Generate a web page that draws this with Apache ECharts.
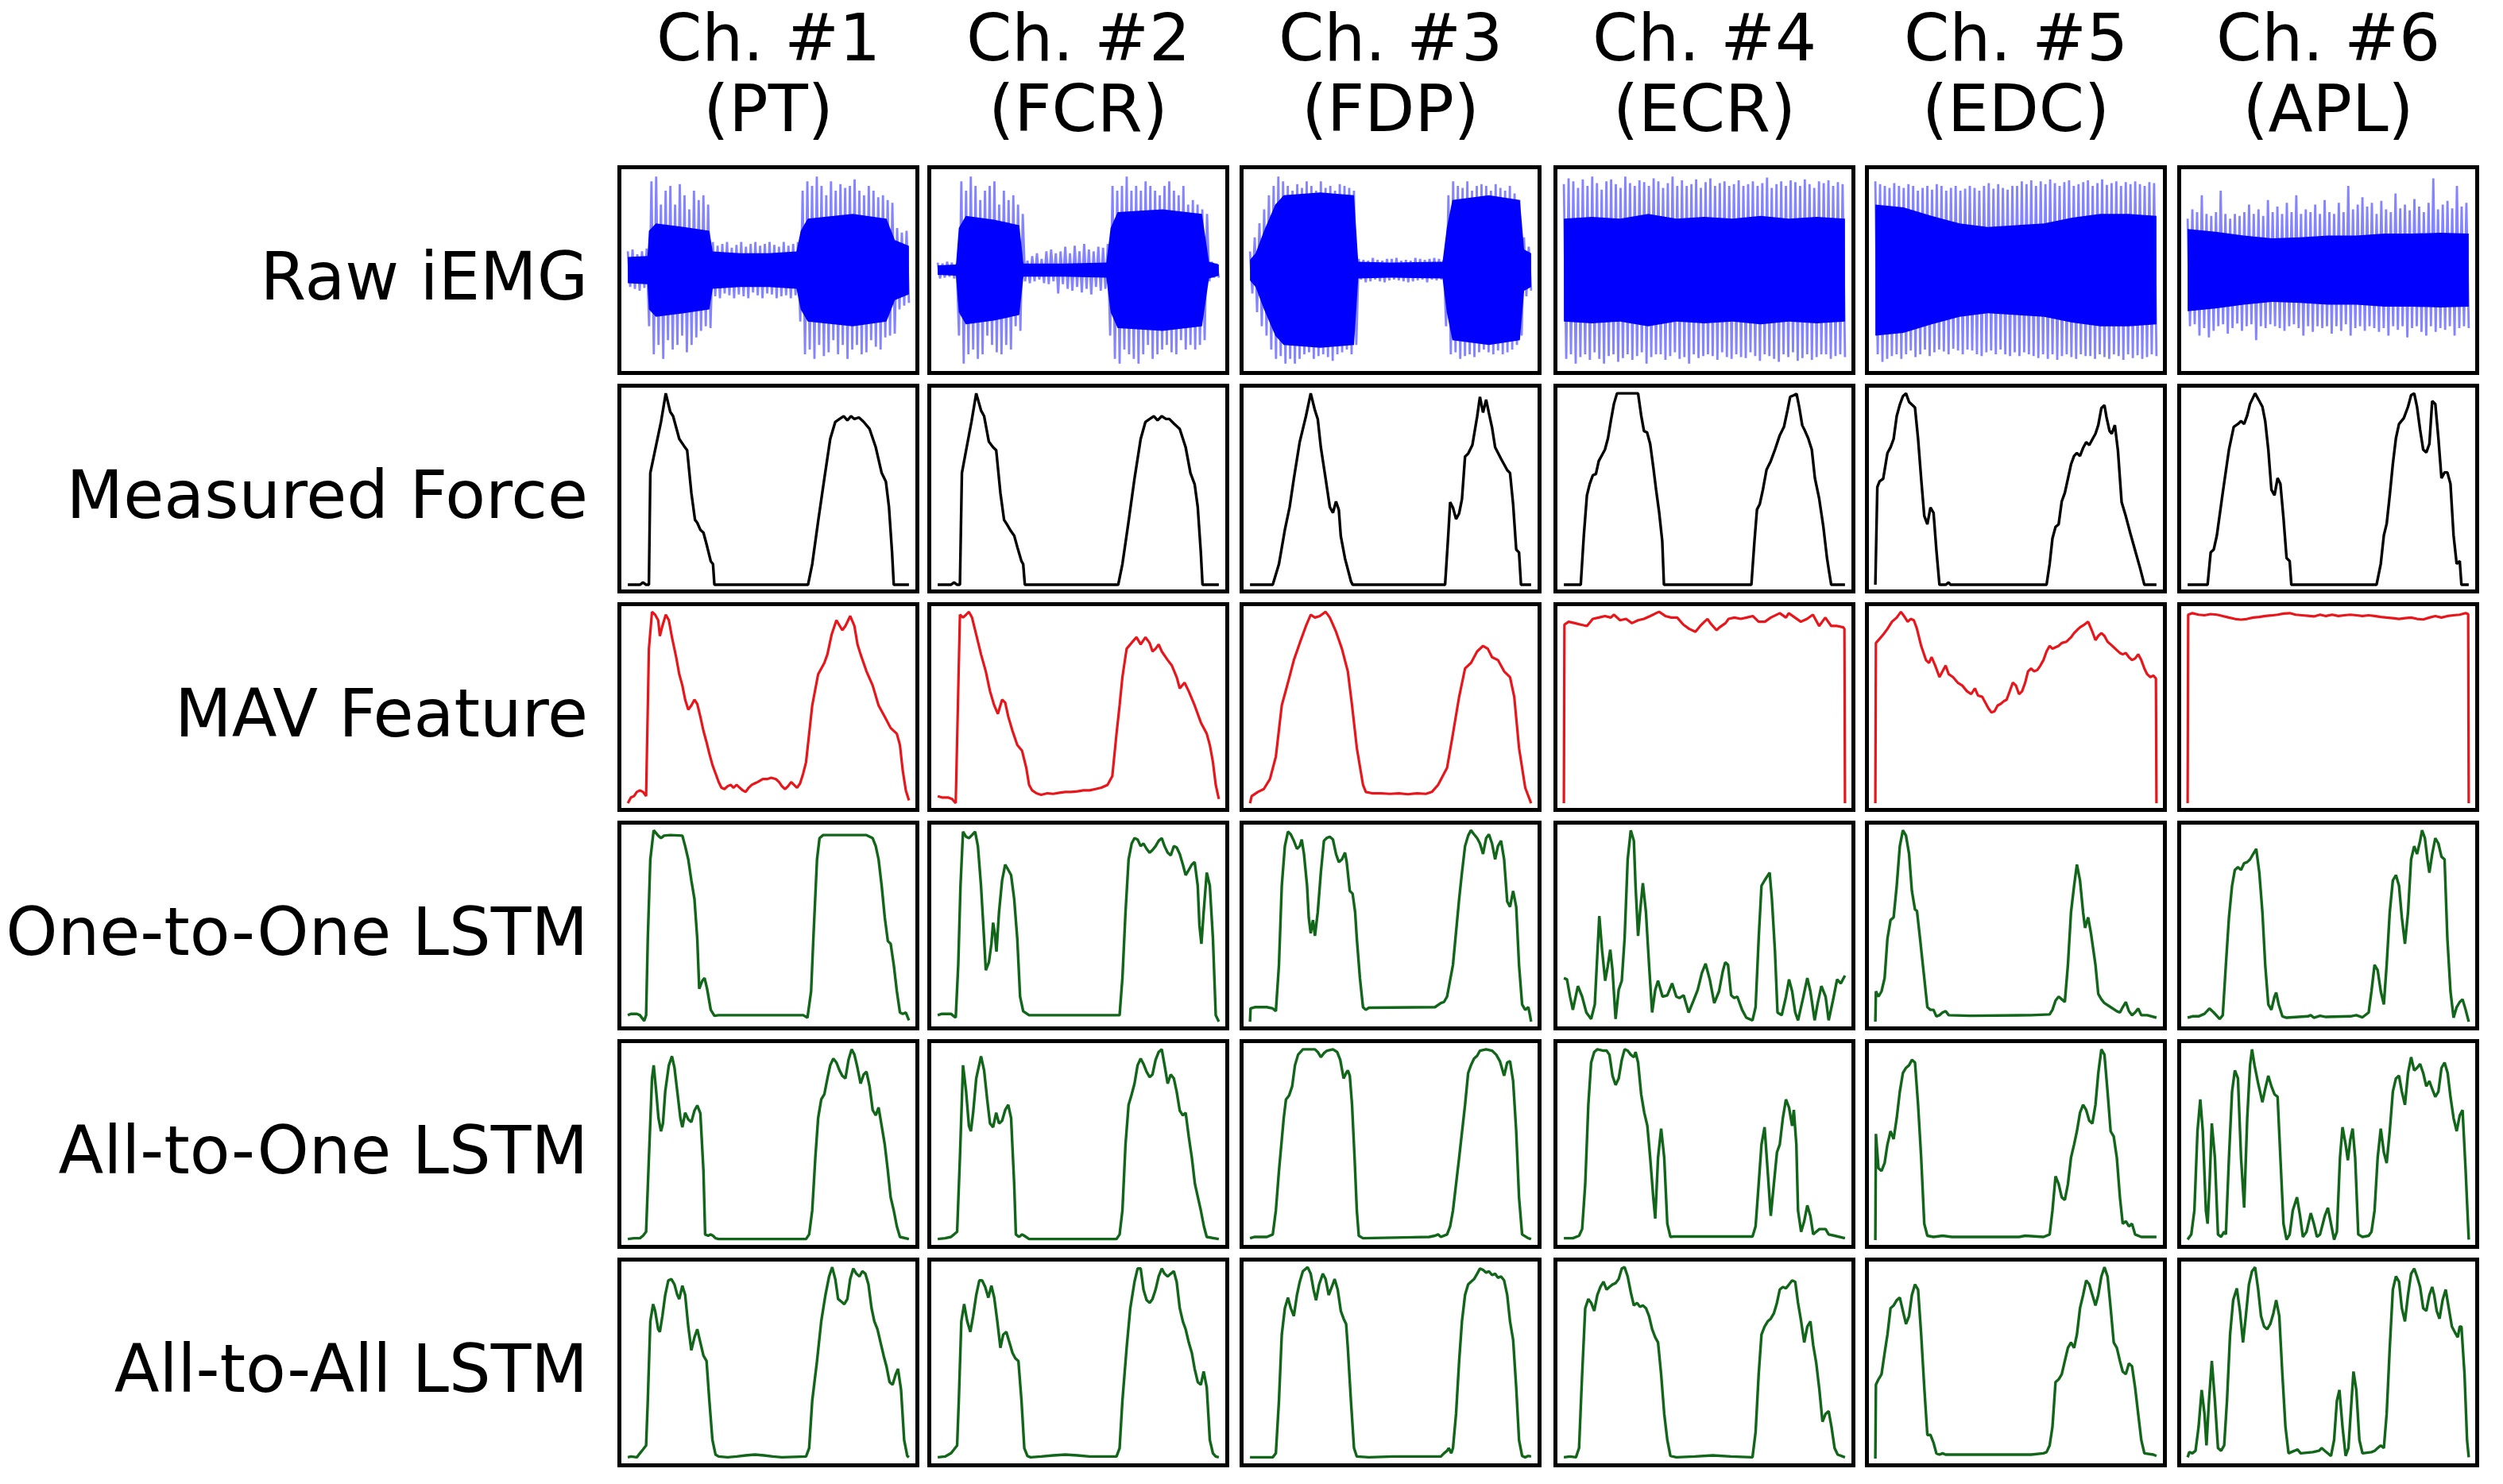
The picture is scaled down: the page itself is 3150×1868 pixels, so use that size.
<!DOCTYPE html>
<html>
<head>
<meta charset="utf-8">
<script src="https://cdn.jsdelivr.net/npm/echarts@6/dist/echarts.min.js"></script>
<style>
html,body{margin:0;padding:0;background:#fff;}
#chart{width:3150px;height:1868px;}
</style>
</head>
<body>
<div id="chart"></div>
<script>
// ---------- labels ----------
const channelNames = ['Ch. #1','Ch. #2','Ch. #3','Ch. #4','Ch. #5','Ch. #6'];
const muscleNames = ['(PT)','(FCR)','(FDP)','(ECR)','(EDC)','(APL)'];
const rowLabels = ['Raw iEMG','Measured Force','MAV Feature','One-to-One LSTM','All-to-One LSTM','All-to-All LSTM'];

// ---------- Raw iEMG: dense core envelope [time %, amplitude] ----------
const emgCore1 = [[0,0.14],[7,0.15],[7.5,0.42],[10,0.5],[20,0.46],[29,0.42],[30.2,0.2],[40,0.18],[50,0.18],[60,0.2],[61.5,0.42],[64,0.55],[80,0.6],[92,0.55],[95,0.32],[100,0.26]];
const emgCore2 = [[0,0.05],[6.5,0.06],[7.5,0.45],[10,0.58],[20,0.54],[29,0.48],[30.5,0.07],[45,0.07],[60,0.08],[61.5,0.45],[64,0.62],[80,0.65],[94,0.6],[96.5,0.09],[100,0.06]];
const emgCore3 = [[0,0.11],[2,0.18],[5,0.42],[9,0.7],[12,0.8],[25,0.83],[37,0.8],[38.5,0.09],[50,0.08],[68.5,0.09],[70,0.45],[72,0.75],[85,0.8],[96,0.75],[97.5,0.22],[100,0.18]];
const emgCore4 = [[0,0.55],[10,0.57],[20,0.55],[30,0.6],[40,0.55],[50,0.57],[60,0.55],[70,0.58],[80,0.55],[90,0.57],[100,0.55]];
const emgCore5 = [[0,0.7],[10,0.67],[20,0.58],[30,0.5],[40,0.46],[50,0.48],[60,0.5],[70,0.56],[80,0.6],[90,0.6],[100,0.58]];
const emgCore6 = [[0,0.44],[10,0.41],[20,0.37],[30,0.34],[40,0.35],[50,0.37],[60,0.37],[70,0.39],[80,0.39],[90,0.4],[100,0.39]];

// ---------- Raw iEMG: spike extremes (120 samples, evenly spaced in time) ----------
const emgSpike1 = [
 0.2,-0.18,0.22,-0.2,0.17,-0.22,0.2,-0.19,0.23,-0.6,
 0.95,-0.9,1.0,-0.8,0.7,-0.95,0.85,-0.75,0.9,-0.85,
 0.7,-0.8,0.92,-0.7,0.8,-0.88,0.65,-0.8,0.85,-0.72,
 0.75,-0.65,0.8,-0.6,0.7,-0.62,0.3,-0.28,0.26,-0.3,
 0.28,-0.25,0.3,-0.27,0.24,-0.3,0.27,-0.26,0.3,-0.28,
 0.25,-0.3,0.28,-0.24,0.3,-0.27,0.26,-0.3,0.28,-0.25,
 0.3,-0.26,0.27,-0.3,0.25,-0.28,0.3,-0.27,0.26,-0.3,
 0.28,-0.27,0.3,-0.55,0.85,-0.9,0.95,-0.85,0.9,-0.95,
 1.0,-0.8,0.9,-0.92,0.8,-0.88,0.95,-0.75,0.85,-0.9,
 0.92,-0.8,0.88,-0.95,0.9,-0.85,0.97,-0.8,0.85,-0.9,
 0.8,-0.88,0.9,-0.75,0.85,-0.82,0.78,-0.85,0.8,-0.72,
 0.75,-0.7,0.72,-0.68,0.45,-0.42,0.4,-0.38,0.42,-0.35];
const emgSpike2 = [
 0.08,-0.09,0.07,-0.08,0.09,-0.07,0.08,-0.09,0.07,-0.7,
 0.95,-1.0,0.85,-0.9,1.0,-0.85,0.9,-0.95,0.75,-0.9,
 0.85,-0.7,0.9,-0.8,0.95,-0.88,0.7,-0.9,0.85,-0.8,
 0.75,-0.85,0.8,-0.6,0.7,-0.65,0.6,-0.12,0.1,-0.14,
 0.15,-0.12,0.18,-0.1,0.12,-0.14,0.2,-0.15,0.22,-0.12,
 0.18,-0.25,0.2,-0.15,0.25,-0.2,0.18,-0.22,0.26,-0.18,
 0.2,-0.24,0.28,-0.2,0.22,-0.26,0.2,-0.18,0.25,-0.22,
 0.24,-0.2,0.28,-0.7,0.9,-0.95,0.85,-1.0,0.9,-0.85,
 1.0,-0.9,0.85,-0.95,0.9,-1.0,0.85,-0.9,0.95,-0.8,
 0.9,-0.95,0.85,-0.9,0.8,-0.85,0.9,-0.8,0.95,-0.88,
 0.85,-0.9,0.8,-0.75,0.9,-0.85,0.7,-0.8,0.75,-0.85,
 0.7,-0.8,0.65,-0.75,0.6,-0.12,0.09,-0.08,0.07,-0.08];
const emgSpike3 = [
 0.2,-0.25,0.35,-0.45,0.5,-0.6,0.65,-0.7,0.8,-0.85,
 0.9,-0.95,1.0,-0.92,0.95,-1.0,0.9,-0.95,0.85,-1.0,
 0.92,-0.95,0.88,-0.9,0.95,-0.88,0.9,-0.95,0.85,-0.92,
 0.95,-0.9,0.88,-0.93,0.9,-0.97,0.85,-0.9,0.92,-0.88,
 0.9,-0.85,0.88,-0.9,0.85,-0.8,0.12,-0.1,0.11,-0.13,
 0.1,-0.12,0.13,-0.1,0.11,-0.12,0.1,-0.13,0.12,-0.11,
 0.12,-0.1,0.13,-0.11,0.1,-0.12,0.11,-0.13,0.1,-0.12,
 0.13,-0.11,0.12,-0.1,0.11,-0.13,0.12,-0.1,0.13,-0.11,
 0.12,-0.1,0.11,-0.6,0.8,-0.9,0.95,-0.88,0.9,-0.95,
 0.88,-0.92,0.95,-0.9,0.85,-0.93,0.9,-0.88,0.92,-0.85,
 0.9,-0.88,0.85,-0.9,0.92,-0.86,0.88,-0.9,0.85,-0.88,
 0.9,-0.85,0.82,-0.8,0.75,-0.7,0.35,-0.28,0.25,-0.22];
const emgSpike4 = [
 0.92,-0.95,0.98,-0.9,0.95,-1.0,0.88,-0.93,0.97,-0.9,
 0.9,-0.96,1.0,-0.88,0.93,-0.95,0.86,-1.0,0.95,-0.92,
 0.97,-0.9,0.92,-0.98,0.88,-0.94,1.0,-0.9,0.93,-0.96,
 0.9,-0.92,0.96,-0.88,0.94,-1.0,0.9,-0.93,0.98,-0.9,
 0.95,-0.9,0.88,-0.96,0.93,-0.92,1.0,-0.88,0.9,-0.95,
 0.96,-0.93,0.9,-1.0,0.92,-0.9,0.97,-0.94,0.88,-0.92,
 0.94,-0.9,0.98,-0.92,0.9,-0.96,0.93,-0.88,0.95,-0.93,
 0.9,-0.95,0.92,-0.9,0.96,-0.93,0.9,-0.94,0.92,-0.88,
 0.95,-0.92,0.9,-0.97,0.93,-0.9,0.99,-0.92,0.88,-0.95,
 0.92,-0.98,0.95,-0.9,0.9,-0.93,0.96,-0.88,0.94,-0.97,
 0.9,-0.94,0.97,-0.9,0.92,-0.96,0.88,-0.93,0.95,-0.9,
 0.93,-0.9,0.96,-0.95,0.9,-0.92,0.94,-0.9,0.92,-0.93];
const emgSpike5 = [
 0.95,-0.9,0.92,-0.98,0.9,-0.95,0.88,-0.92,0.93,-0.9,
 0.9,-0.95,0.88,-0.9,0.92,-0.86,0.9,-0.93,0.85,-0.9,
 0.88,-0.85,0.9,-0.92,0.86,-0.88,0.92,-0.85,0.9,-0.87,
 0.85,-0.9,0.88,-0.84,0.9,-0.86,0.85,-0.9,0.87,-0.85,
 0.9,-0.86,0.88,-0.9,0.85,-0.92,0.9,-0.88,0.93,-0.86,
 0.87,-0.9,0.92,-0.85,0.88,-0.9,0.86,-0.92,0.9,-0.88,
 0.9,-0.92,0.95,-0.88,0.92,-0.9,0.96,-0.92,0.9,-0.94,
 0.95,-0.9,0.92,-0.95,0.97,-0.9,0.93,-0.96,0.9,-0.92,
 0.94,-0.9,0.96,-0.93,0.9,-0.95,0.92,-0.9,0.94,-0.92,
 0.96,-0.92,0.9,-0.95,0.93,-0.9,0.97,-0.93,0.91,-0.95,
 0.93,-0.9,0.95,-0.92,0.9,-0.96,0.94,-0.9,0.92,-0.94,
 0.95,-0.91,0.92,-0.95,0.9,-0.93,0.94,-0.9,0.93,-0.92];
const emgSpike6 = [
 0.55,-0.6,0.65,-0.58,0.62,-0.7,0.8,-0.62,0.6,-0.72,
 0.58,-0.65,0.62,-0.6,0.85,-0.58,0.6,-0.68,0.55,-0.62,
 0.6,-0.57,0.58,-0.65,0.62,-0.6,0.7,-0.58,0.6,-0.75,
 0.65,-0.6,0.58,-0.62,0.75,-0.58,0.62,-0.6,0.68,-0.62,
 0.6,-0.65,0.72,-0.6,0.62,-0.58,0.8,-0.62,0.6,-0.7,
 0.65,-0.6,0.62,-0.66,0.7,-0.6,0.6,-0.62,0.75,-0.6,
 0.62,-0.68,0.6,-0.6,0.72,-0.65,0.62,-0.58,0.9,-0.7,
 0.65,-0.62,0.7,-0.6,0.78,-0.65,0.68,-0.6,0.72,-0.62,
 0.6,-0.66,0.74,-0.62,0.65,-0.7,0.62,-0.6,0.82,-0.64,
 0.66,-0.6,0.7,-0.72,0.64,-0.62,0.76,-0.6,0.68,-0.66,
 0.62,-0.7,0.72,-0.6,0.98,-0.66,0.65,-0.62,0.7,-0.64,
 0.74,-0.6,0.66,-0.7,0.9,-0.62,0.68,-0.6,0.72,-0.62];

// ---------- Measured Force [time %, % of max] ----------
const force1 = [[0,0],[4.3,0],[5.4,1.2],[6.5,0],[7.5,0],[8.0,58.4],[9.7,70.3],[11.8,85.1],[13.5,100],[15.1,90.3],[16.1,88.1],[18.3,76.2],[20.0,72.5],[21.1,70.3],[22.6,48],[23.9,33.9],[24.7,32.4],[25.8,28.7],[26.9,27.2],[28.0,21.2],[29.5,12.3],[30.3,10.8],[30.8,0],[64.1,0],[65.6,10.8],[67.7,33.1],[69.9,55.4],[72.0,76.2],[73.8,85.1],[75.3,86.6],[76.8,88.1],[78.1,85.9],[79.4,88.1],[80.6,86.6],[82.2,87.4],[83.9,85.1],[86.0,81.4],[88.2,71.8],[90.3,58.4],[91.8,53.9],[92.9,40.6],[94.0,16.8],[94.6,0],[100,0]];
const force2 = [[0,0],[4.7,0],[5.8,1.2],[6.9,0],[7.9,0],[8.6,58.4],[10.1,70.3],[12.0,85.1],[13.7,100],[15.4,91.1],[16.5,88.1],[18.2,74.7],[19.7,71.8],[20.8,70.3],[22.3,48],[23.6,33.9],[24.6,31.6],[26.1,27.9],[27.2,25.7],[28.3,19.8],[29.8,12.3],[30.4,10.8],[31.0,0],[64.2,0],[65.7,10.8],[67.9,33.1],[70.0,55.4],[72.2,76.2],[73.9,85.1],[75.4,86.6],[76.9,88.1],[78.2,85.9],[79.7,88.1],[81.2,86.6],[82.4,86.6],[83.9,84.4],[86.1,81.4],[88.2,71.8],[89.9,58.4],[91.4,52.5],[92.5,40.6],[93.6,16.8],[94.2,0],[100,0]];
const force3 = [[0,0],[8.1,0],[10.3,10.8],[12.4,28.7],[14.1,40.6],[15.6,55.4],[17.7,74.7],[19.9,88.1],[21.6,100],[23.1,91.1],[24.1,86.6],[25.2,71.8],[26.9,55.4],[28.4,40.6],[29.5,37.6],[30.6,43.5],[31.6,39.1],[32.3,25.4],[33.8,13.7],[35.9,1.9],[36.5,0],[69.4,0],[70.5,25.4],[71.2,43.2],[72.2,40.3],[73.3,34.3],[74.4,37.3],[75.4,44.7],[76.5,67.0],[77.6,68.5],[79.1,73.0],[80.8,87.8],[81.8,98.2],[82.9,90.0],[84.0,96.7],[85.0,89.6],[86.1,82.2],[87.2,71.8],[89.3,65.8],[91.5,59.9],[92.5,58.4],[93.6,42.1],[94.7,18.4],[95.7,16.9],[96.4,0],[100,0]];
const force4 = [[0,0],[6.0,0],[7.1,25.8],[8.2,46.7],[9.2,52.7],[10.3,57.2],[11.4,57.9],[12.4,64.6],[13.5,67.6],[14.6,70.6],[15.7,76.6],[16.7,85.5],[17.8,94.5],[18.9,100],[26.4,100],[27.5,88.5],[28.5,80.3],[29.6,79.6],[30.7,73.6],[31.8,61.6],[32.8,49.7],[33.9,37.8],[35.0,22.8],[35.6,0],[66.7,0],[67.8,22.8],[68.7,39.3],[69.7,42.2],[70.8,49.7],[72.1,60.1],[73.6,64.6],[75.1,70.6],[76.8,78.1],[78.3,82.5],[79.6,91.5],[80.5,98.2],[81.8,99.0],[82.8,99.7],[83.7,93.0],[84.8,83.3],[85.8,80.3],[86.9,76.6],[88.2,70.6],[89.3,55.7],[90.8,45.2],[92.3,30.4],[93.6,14.0],[94.4,6.4],[95.1,0],[100,0]];
const force5 = [[0,0],[0.7,51.0],[1.5,54.0],[2.8,55.4],[4.3,68.8],[5.4,71.8],[6.5,76.2],[7.6,88.1],[8.7,94.1],[9.8,98.5],[10.9,100],[12.0,95.5],[13.0,94.1],[14.1,92.6],[15.2,76.2],[16.3,55.4],[17.4,36.0],[18.5,31.6],[19.6,40.4],[20.7,37.6],[21.7,18.3],[22.8,0],[25.0,0],[26.1,1.2],[26.7,0],[60.9,0],[62.0,10.8],[63.0,24.2],[64.1,30.2],[65.2,31.6],[66.3,43.5],[67.4,48.0],[68.5,55.4],[69.6,62.9],[70.7,67.3],[71.7,68.8],[72.8,67.3],[73.9,71.5],[75.0,74.5],[76.1,73.0],[77.2,76.0],[78.3,78.9],[79.3,83.4],[80.4,92.3],[81.5,93.8],[82.2,87.8],[83.3,80.4],[84.1,78.9],[85.2,83.4],[86.3,70.0],[87.6,43.2],[89.1,35.8],[90.7,26.9],[92.4,18.0],[94.1,9.1],[95.7,0],[100,0]];
const force6 = [[0,0],[7.1,0],[8.2,16.9],[9.3,18.4],[10.4,25.8],[12.5,48.2],[14.7,70.6],[16.4,82.5],[17.9,84.0],[19.0,85.5],[20.1,84.0],[21.2,88.5],[22.2,94.5],[24.0,100],[25.5,96.0],[26.6,93.0],[27.6,85.5],[28.7,70.6],[29.8,49.7],[30.9,46.7],[32.0,55.7],[33.0,52.7],[34.1,34.8],[35.2,13.9],[36.3,12.4],[36.9,0],[67.2,0],[68.7,10.9],[69.8,25.8],[70.8,31.8],[71.9,46.7],[73.0,63.1],[74.1,76.6],[75.2,84.0],[76.9,87.0],[78.4,93.0],[79.5,99.0],[80.6,100],[81.6,93.0],[82.7,81.0],[83.8,70.6],[84.9,69.1],[86.0,73.6],[87.0,96.0],[88.1,94.5],[89.2,76.6],[90.3,55.7],[91.4,58.7],[92.4,58.7],[93.5,52.7],[94.6,25.8],[95.7,10.9],[96.8,12.4],[97.4,0],[100,0]];

// ---------- MAV Feature ----------
const mav1 = [[0,0],[1.1,3.0],[2.2,3.7],[3.2,5.9],[4.3,6.7],[5.4,5.9],[6.5,3.7],[7.5,80.7],[8.6,100],[9.7,98.5],[10.8,95.6],[11.4,87.4],[12.3,92.6],[13.5,98.5],[14.6,95.6],[15.7,86.7],[17.2,76.3],[18.3,67.4],[19.4,61.5],[20.4,54.1],[21.5,48.9],[22.6,51.1],[23.7,54.1],[24.7,51.9],[25.8,45.2],[26.9,37.8],[28.0,31.9],[29.0,25.9],[30.1,20.0],[31.2,15.6],[32.3,11.1],[33.3,8.1],[34.4,7.4],[35.5,8.9],[36.6,9.6],[37.6,8.1],[38.7,9.6],[39.8,8.1],[40.9,6.7],[41.9,5.9],[43.0,8.1],[44.1,9.6],[45.2,10.4],[46.2,11.1],[48.0,12.6],[49.5,12.6],[51.0,13.3],[52.7,12.6],[53.8,11.1],[54.8,8.9],[55.9,7.4],[57.0,8.9],[58.1,11.1],[59.1,9.6],[60.2,8.1],[61.3,10.4],[62.4,15.6],[63.4,21.5],[65.6,51.1],[67.7,67.4],[69.9,73.3],[71.0,77.8],[72.5,88.1],[74.2,95.6],[76.3,90.4],[77.4,92.6],[79.1,97.8],[80.6,92.6],[81.7,83.0],[82.8,77.8],[84.9,68.9],[87.1,61.5],[89.2,51.1],[91.4,45.2],[93.5,39.3],[95.7,36.3],[96.8,30.4],[97.8,17.0],[98.9,6.7],[100,1.5]];
const mav2 = [[0,3.7],[1.5,3.0],[3.6,3.0],[5.1,2.2],[6.4,0],[7.9,98.5],[9.0,97.0],[10.1,98.5],[11.1,100],[12.2,97.0],[13.7,88.1],[15.4,77.8],[17.1,68.9],[18.6,58.5],[20.1,51.1],[21.4,46.7],[22.9,54.1],[24.0,52.6],[25.1,45.2],[26.6,37.8],[28.3,30.4],[30.0,27.4],[31.5,18.5],[32.5,9.6],[33.6,6.7],[35.1,5.2],[36.8,4.4],[39.0,5.2],[41.1,4.9],[43.3,5.5],[45.4,5.9],[47.5,5.9],[49.7,6.2],[51.8,6.7],[54.0,6.7],[56.1,7.4],[58.2,8.1],[60.4,9.6],[62.1,14.1],[63.6,36.3],[64.7,51.1],[65.7,65.9],[67.2,80.7],[68.9,83.7],[70.7,86.7],[72.2,83.0],[73.9,86.7],[75.4,83.7],[76.4,79.3],[77.5,80.7],[78.6,83.0],[79.7,79.3],[81.8,74.8],[83.3,71.9],[85.0,65.9],[86.1,60.0],[87.8,63.0],[89.3,58.5],[91.4,51.1],[93.6,42.2],[95.7,36.3],[96.8,30.4],[97.9,21.5],[98.9,9.6],[100,2.2]];
const mav3 = [[0,0],[0.6,3.7],[2.8,5.9],[4.9,7.4],[7.1,12.6],[9.2,24.4],[11.3,51.1],[13.5,63.0],[15.6,74.8],[17.7,83.7],[19.9,92.6],[21.6,98.5],[23.1,97.0],[24.8,97.8],[26.9,100],[28.4,97.0],[30.6,89.6],[32.7,80.7],[34.8,68.9],[36.3,51.1],[38.0,28.9],[40.2,9.6],[41.2,5.9],[43.4,5.2],[46.6,5.2],[49.8,4.9],[53.0,5.2],[56.2,4.7],[59.4,5.2],[62.6,4.9],[64.7,5.9],[66.9,9.6],[70.1,18.5],[72.2,36.3],[74.4,55.6],[76.5,70.4],[78.6,73.3],[80.8,79.3],[82.9,82.2],[84.6,80.7],[86.1,76.3],[88.2,74.8],[90.4,68.9],[92.5,65.9],[94.0,55.6],[95.7,28.9],[97.9,8.1],[100,0]];
const mav4 = [[0,0],[0.2,93.3],[1.7,94.8],[3.9,94.1],[6.0,93.3],[8.2,92.6],[10.3,96.3],[12.4,97.0],[14.6,97.8],[16.7,97.0],[17.8,98.5],[20.0,95.6],[22.1,96.3],[24.2,94.1],[26.4,95.6],[28.5,96.3],[30.7,97.8],[32.8,99.3],[33.9,100],[36.1,97.8],[38.2,97.0],[40.3,97.0],[42.5,93.3],[44.6,91.1],[46.8,89.6],[48.5,92.6],[50.0,94.8],[51.1,96.3],[52.1,94.1],[54.3,90.4],[55.4,91.9],[57.5,94.1],[58.6,96.3],[60.7,97.0],[62.9,96.3],[65.0,97.0],[67.2,97.8],[69.3,94.8],[71.5,94.8],[73.6,97.0],[76.8,99.3],[79.0,97.0],[80.0,99.3],[82.2,97.0],[84.3,94.8],[86.5,96.3],[88.6,98.5],[90.8,92.6],[93.0,97.0],[95.1,92.6],[97.2,92.6],[99.4,91.9],[99.8,91.1],[100,0]];
const mav5 = [[0,0],[0.2,83.7],[1.5,85.9],[2.8,88.1],[4.3,91.1],[5.9,94.8],[7.6,97.0],[9.1,100],[10.2,97.8],[11.5,94.8],[12.6,96.3],[13.7,95.6],[14.8,91.1],[16.3,82.2],[18.0,74.8],[19.1,73.3],[20.0,76.3],[21.3,71.9],[22.8,65.9],[23.9,68.9],[25.0,71.9],[26.1,67.4],[27.6,65.9],[29.3,63.0],[30.9,61.5],[32.6,58.5],[34.1,57.0],[35.4,60.0],[36.5,56.3],[38.0,55.6],[39.1,52.6],[40.2,49.6],[41.3,47.4],[42.4,48.1],[43.5,51.1],[44.6,51.9],[45.7,53.3],[46.7,54.1],[47.8,58.5],[48.9,63.0],[50.0,61.5],[51.1,57.0],[52.2,58.5],[53.3,63.0],[54.3,68.9],[55.4,70.4],[56.5,68.9],[57.6,69.6],[58.7,71.9],[59.8,74.8],[60.9,79.3],[62.0,82.2],[63.0,80.7],[64.1,81.5],[65.2,82.2],[66.3,83.7],[68.0,84.4],[69.6,86.7],[70.7,88.9],[71.7,90.4],[72.8,91.9],[74.3,93.3],[75.7,94.8],[77.2,89.6],[78.3,85.2],[79.3,87.4],[80.4,88.9],[81.5,87.4],[82.6,84.4],[83.7,83.0],[84.8,81.5],[85.9,80.0],[87.0,78.5],[88.0,77.8],[89.1,78.5],[90.2,76.3],[91.3,74.8],[92.4,75.6],[93.5,77.8],[94.6,74.8],[95.7,70.4],[96.7,67.4],[97.8,65.9],[98.9,66.7],[99.8,65.2],[100,0]];
const mav6 = [[0,0],[0.2,98.5],[1.7,99.3],[3.9,98.5],[6.0,98.2],[8.2,98.8],[10.4,98.5],[12.5,97.8],[14.7,97.0],[16.8,96.3],[19.0,95.9],[21.2,96.3],[23.3,97.0],[25.5,97.3],[27.6,97.8],[29.8,98.1],[32.0,98.5],[34.1,99.1],[36.3,99.3],[38.4,98.5],[40.6,98.2],[42.8,97.9],[44.9,97.6],[47.1,98.5],[49.2,97.8],[51.4,98.5],[53.6,97.8],[55.7,98.2],[57.9,98.5],[60.0,98.2],[62.2,97.8],[64.4,98.2],[66.5,97.8],[68.7,97.3],[70.8,97.0],[73.0,96.7],[75.2,96.3],[77.3,96.7],[79.5,97.0],[81.6,96.3],[83.8,96.0],[86.0,97.0],[88.1,97.8],[90.3,97.0],[92.4,97.8],[94.6,98.2],[96.8,98.5],[98.9,99.3],[99.8,98.8],[100,0]];

// ---------- One-to-One LSTM ----------
const oneToOne1 = [[0,3.4],[1.1,4.1],[3.2,4.1],[4.3,3.4],[5.8,0.4],[6.5,3.4],[7.1,43.4],[8.0,84.8],[9.2,100],[10.8,97.2],[11.8,95.9],[12.9,97.2],[15.1,97.5],[19.4,97.2],[20.4,91.7],[21.5,84.8],[22.6,73.8],[23.7,64.1],[24.7,43.4],[25.4,17.2],[26.5,21.4],[27.3,22.8],[28.2,17.2],[29.5,6.2],[30.8,3.1],[32.3,3.4],[62.4,3.4],[63.9,2.1],[65.2,15.9],[66.0,43.4],[67.3,84.8],[68.2,95.9],[69.5,97.5],[84.9,97.5],[87.1,95.9],[88.2,91.7],[89.2,84.8],[90.3,71.0],[91.4,54.5],[92.5,42.1],[93.5,40.7],[94.6,29.7],[95.7,15.9],[96.8,4.8],[97.8,4.1],[98.9,4.8],[100,0.7]];
const oneToOne2 = [[0,3.4],[1.5,4.1],[4.7,4.1],[5.8,2.8],[6.4,2.1],[7.3,29.7],[8.1,71.0],[9.0,99.3],[10.1,96.6],[11.1,95.9],[12.2,97.5],[13.3,99.3],[14.3,91.7],[15.4,71.0],[16.5,43.4],[17.1,26.9],[18.2,31.0],[19.1,40.7],[19.7,51.7],[20.3,46.2],[20.9,36.6],[21.8,57.2],[22.9,73.8],[24.0,82.1],[25.1,79.3],[26.1,76.6],[27.2,64.1],[28.3,43.4],[29.3,13.1],[30.4,5.5],[32.5,3.4],[64.7,3.4],[65.7,22.8],[66.8,57.2],[67.9,84.8],[69.0,93.1],[70.0,95.9],[71.1,95.2],[72.2,91.7],[73.2,93.1],[74.3,90.3],[75.4,88.3],[76.4,89.7],[77.5,91.7],[78.6,94.5],[79.7,95.9],[80.7,91.7],[81.8,88.3],[82.9,86.9],[84.0,91.7],[85.0,91.0],[86.1,87.6],[87.2,82.1],[88.2,76.6],[89.3,79.3],[90.4,82.1],[91.4,83.4],[92.5,71.0],[93.1,50.3],[93.8,40.7],[94.6,57.2],[95.7,77.9],[96.8,71.0],[97.9,43.4],[98.9,3.4],[100,0]];
const oneToOne3 = [[0,0],[0.2,6.9],[1.7,7.6],[6.0,7.6],[8.1,6.9],[9.2,5.5],[10.3,29.7],[11.3,71.0],[12.4,91.7],[13.5,99.3],[14.5,97.9],[15.6,94.5],[16.7,90.3],[17.7,91.7],[18.4,95.2],[19.2,87.6],[20.3,71.0],[20.9,54.5],[21.6,46.2],[22.4,53.1],[23.1,44.8],[24.1,57.2],[25.2,77.9],[26.3,94.5],[27.4,96.1],[28.4,96.6],[29.5,95.2],[30.6,87.6],[31.6,83.4],[32.7,84.8],[33.8,88.3],[34.4,83.4],[35.5,68.3],[36.5,66.9],[37.4,57.2],[38.0,43.4],[39.1,22.8],[40.2,7.6],[41.2,6.2],[42.3,7.3],[65.8,7.6],[67.9,9.7],[69.0,10.3],[70.1,13.1],[72.2,29.7],[74.4,64.1],[75.4,77.9],[76.5,91.7],[77.6,97.2],[78.6,100],[79.7,97.9],[80.8,95.9],[81.8,93.1],[82.9,87.6],[84.0,95.9],[85.0,97.9],[86.1,93.1],[87.2,84.8],[88.2,91.7],[89.3,94.5],[90.4,84.8],[91.5,62.8],[92.5,60.0],[93.6,68.3],[94.7,60.0],[95.7,29.7],[96.8,9.0],[97.9,6.2],[99.0,7.6],[99.6,3.4],[100,0]];
const oneToOne4 = [[0,22.8],[1.1,22.1],[2.2,13.1],[3.2,6.2],[5.0,18.6],[6.5,13.1],[8.0,4.8],[9.7,1.4],[11.0,9.0],[12.6,55.2],[13.6,37.2],[14.7,21.4],[15.6,29.0],[16.5,37.6],[17.3,26.9],[18.4,1.4],[19.5,16.6],[20.6,21.4],[21.6,43.4],[22.7,84.8],[23.8,100],[24.9,94.5],[25.5,71.0],[26.4,44.8],[27.1,57.2],[28.1,72.4],[29.2,57.2],[30.3,29.7],[31.4,4.8],[32.5,16.6],[33.5,21.4],[35.1,13.1],[36.8,13.8],[38.5,20.0],[40.0,13.1],[41.1,12.4],[42.6,13.8],[44.4,4.8],[46.1,11.0],[47.6,16.6],[49.1,25.5],[50.4,30.3],[51.9,22.1],[53.5,9.7],[55.2,15.9],[56.5,26.2],[57.4,31.0],[58.4,29.7],[59.5,13.8],[60.6,12.4],[61.7,13.1],[63.4,6.2],[64.9,2.1],[67.1,0.7],[68.2,7.6],[69.3,43.4],[70.3,71.0],[71.4,73.8],[73.2,77.9],[74.0,64.1],[75.1,36.6],[76.0,4.8],[77.5,3.4],[79.0,13.1],[80.1,22.1],[81.2,15.9],[82.3,4.8],[83.3,0.7],[85.1,12.4],[86.6,22.8],[87.7,15.9],[89.2,0.7],[90.3,9.7],[91.6,18.6],[93.1,13.1],[94.2,0.7],[95.7,11.0],[97.2,22.1],[98.5,20.0],[100,24.1]];
const oneToOne5 = [[0,0],[0.2,15.9],[1.1,13.1],[2.2,15.9],[3.3,22.8],[4.3,43.4],[5.4,53.1],[6.5,54.5],[7.6,71.0],[8.7,91.7],[9.8,100],[10.9,97.2],[12.0,87.6],[13.0,68.3],[14.1,58.6],[14.8,57.9],[15.9,43.4],[17.4,22.8],[18.5,7.6],[19.6,6.2],[20.7,6.2],[21.7,2.8],[22.8,3.4],[23.9,4.8],[25.0,5.5],[26.1,3.4],[33.7,3.1],[55.4,3.4],[62.0,3.8],[63.0,6.2],[64.1,11.0],[65.2,13.1],[66.3,11.7],[67.4,10.3],[68.5,29.7],[69.6,57.2],[70.7,71.0],[71.7,82.1],[72.8,73.8],[73.9,57.2],[74.6,49.0],[75.7,54.5],[76.7,46.2],[78.3,29.7],[79.3,14.5],[80.4,11.7],[81.5,9.7],[83.7,7.6],[85.9,5.5],[87.0,4.8],[88.0,7.6],[89.1,10.3],[90.2,5.5],[91.3,3.4],[92.4,4.8],[93.5,6.9],[94.6,3.4],[96.7,3.4],[100,2.1]];
const oneToOne6 = [[0,2.1],[1.7,2.8],[3.9,2.8],[6.0,4.1],[7.8,6.9],[9.3,4.8],[11.4,1.4],[12.5,3.4],[13.6,29.7],[14.7,54.5],[15.8,71.0],[16.8,79.3],[17.9,80.7],[19.0,79.3],[20.1,82.8],[21.2,83.4],[22.2,84.8],[23.3,87.6],[24.4,90.3],[25.5,77.9],[26.6,57.2],[27.6,29.7],[28.7,9.0],[29.8,6.2],[30.9,13.1],[31.5,15.2],[32.4,9.0],[33.7,2.8],[35.2,2.1],[42.8,2.8],[43.8,3.4],[44.9,2.1],[47.1,3.1],[49.2,2.5],[57.9,2.8],[60.0,3.4],[62.2,2.3],[64.4,4.8],[65.4,15.9],[66.5,29.7],[67.6,26.9],[68.7,15.9],[69.8,9.0],[70.8,29.7],[71.9,57.2],[73.0,73.8],[74.1,76.6],[75.2,71.0],[76.2,54.5],[77.3,40.7],[78.4,57.2],[79.5,84.8],[80.6,91.7],[81.6,87.6],[82.7,94.5],[83.4,100],[84.4,95.9],[85.3,84.8],[86.0,77.9],[87.0,87.6],[88.1,95.9],[89.2,93.1],[90.3,86.2],[91.4,84.8],[92.4,43.4],[93.5,15.9],[94.6,2.1],[95.7,7.6],[96.8,10.3],[97.8,11.7],[98.9,6.2],[100,0]];

// ---------- All-to-One LSTM ----------
const allToOne1 = [[0,0.6],[2.2,1.0],[4.3,1.0],[5.4,2.3],[6.5,4.4],[7.5,43.1],[8.6,84.5],[9.2,91.4],[10.1,77.6],[10.9,63.8],[11.8,56.9],[12.5,61.0],[13.3,77.6],[14.6,91.4],[15.7,96.1],[16.6,90.0],[17.6,77.6],[18.7,63.8],[19.4,59.0],[20.4,66.6],[21.5,63.1],[22.6,61.7],[23.7,67.7],[24.7,70.4],[25.8,66.3],[26.9,36.2],[27.5,3.0],[28.6,2.3],[29.5,3.0],[30.3,2.3],[31.2,1.0],[32.3,0.6],[63.4,0.6],[64.5,3.0],[65.6,15.5],[66.7,43.1],[67.7,63.8],[68.8,73.5],[69.9,76.2],[71.0,84.5],[72.0,91.4],[73.1,94.9],[74.2,92.8],[75.3,88.7],[76.3,85.9],[77.4,84.5],[78.5,94.2],[79.6,99.7],[80.6,97.0],[81.7,90.0],[82.8,81.8],[83.9,86.6],[84.9,88.0],[86.0,80.4],[87.1,68.0],[88.2,65.2],[89.2,69.3],[90.3,59.7],[91.4,50.0],[92.5,36.2],[93.5,22.4],[94.6,15.5],[95.7,7.2],[96.8,1.7],[100,0.6]];
const allToOne2 = [[0,0.6],[2.6,1.0],[4.7,1.7],[5.8,3.0],[6.9,4.4],[7.9,43.1],[9.0,91.4],[10.1,77.6],[11.1,59.7],[11.8,56.9],[12.6,66.6],[13.7,84.5],[15.4,96.1],[16.5,88.7],[17.6,73.5],[18.6,61.0],[19.7,59.0],[20.8,66.6],[21.8,61.0],[22.9,62.4],[24.0,68.0],[25.1,70.7],[26.1,63.8],[27.2,29.3],[27.8,3.0],[28.9,1.7],[30.0,3.0],[30.8,2.3],[32.5,0.6],[63.6,0.6],[64.7,3.0],[65.7,15.5],[66.8,50.0],[67.9,70.7],[69.0,76.2],[70.0,81.8],[71.1,91.4],[72.2,94.9],[73.2,92.1],[74.3,88.0],[75.4,85.2],[76.4,86.6],[77.5,94.2],[78.6,98.3],[79.7,99.7],[80.7,91.4],[81.8,81.8],[82.9,86.6],[84.0,84.5],[85.0,77.6],[86.1,67.7],[87.2,65.2],[88.2,66.6],[89.3,54.1],[90.4,43.1],[91.5,29.3],[93.6,15.5],[94.7,7.2],[95.7,1.7],[100,0.6]];
const allToOne3 = [[0,1.0],[1.7,1.7],[6.0,1.7],[8.1,3.0],[9.2,15.5],[10.3,36.2],[12.0,63.8],[12.8,73.5],[13.9,75.6],[15.0,80.4],[16.0,91.4],[17.1,96.9],[18.8,99.7],[23.1,99.7],[24.1,98.3],[25.2,95.6],[26.3,97.7],[27.4,99.0],[29.5,99.7],[31.0,98.3],[32.1,94.2],[33.3,84.5],[34.2,87.3],[34.8,88.7],[35.5,85.9],[36.3,70.7],[37.2,43.1],[38.0,15.5],[38.7,2.3],[40.2,1.0],[63.7,1.7],[65.8,2.3],[66.9,3.0],[67.9,1.7],[70.1,3.0],[71.2,7.2],[72.2,15.5],[74.4,43.1],[76.5,70.7],[77.6,87.3],[78.6,91.4],[79.7,94.9],[80.8,96.3],[81.8,99.0],[84.0,99.7],[86.1,99.0],[87.6,96.9],[88.9,93.5],[90.4,85.9],[91.5,92.8],[92.5,93.5],[93.6,83.1],[94.7,56.9],[95.7,22.4],[96.8,3.0],[99.0,1.0],[100,0.6]];
const allToOne4 = [[0,1.0],[3.2,1.0],[5.4,2.3],[6.5,5.8],[7.6,29.3],[8.7,70.7],[9.7,92.8],[10.8,98.3],[11.9,99.7],[14.1,99.0],[15.2,99.0],[16.2,96.9],[17.3,85.9],[18.4,81.1],[19.5,84.5],[20.6,94.2],[21.6,99.7],[22.7,99.0],[23.8,96.9],[24.9,95.6],[25.5,98.3],[26.4,92.8],[27.5,76.2],[28.6,66.6],[29.7,59.7],[30.7,43.1],[31.8,22.4],[32.5,11.3],[33.5,43.1],[34.6,58.3],[35.7,43.1],[36.8,8.6],[37.9,1.7],[39.0,1.9],[67.1,1.9],[68.2,7.2],[69.3,29.3],[70.3,50.0],[71.4,59.0],[72.5,36.2],[73.6,12.7],[74.7,29.3],[75.8,45.9],[76.8,50.0],[77.9,63.8],[79.0,73.5],[80.1,69.3],[81.2,59.7],[81.8,68.0],[82.7,50.0],[83.3,15.5],[84.4,4.4],[85.5,9.9],[86.6,18.2],[87.7,12.7],[88.7,3.0],[90.9,5.8],[93.1,5.8],[94.2,3.0],[96.3,2.3],[100,1.0]];
const allToOne5 = [[0,0],[0.2,55.5],[1.1,37.6],[2.2,36.2],[3.3,40.3],[4.3,50.0],[5.4,56.9],[6.5,52.8],[7.6,63.8],[8.7,77.6],[9.8,87.3],[10.9,90.0],[12.0,91.4],[13.0,94.2],[14.1,92.8],[15.2,70.7],[16.3,43.1],[17.4,8.6],[18.5,2.3],[20.7,1.7],[23.9,2.3],[27.2,1.7],[51.1,1.7],[53.3,2.3],[59.8,1.7],[62.0,3.0],[63.0,15.5],[64.1,33.4],[65.2,29.3],[66.3,22.4],[67.4,21.0],[68.5,29.3],[69.6,43.1],[70.7,50.0],[71.7,56.9],[72.8,66.6],[73.9,70.7],[75.0,68.0],[76.1,62.4],[77.2,61.0],[78.3,70.7],[79.3,87.3],[80.4,99.7],[81.5,96.9],[82.6,77.6],[83.7,56.9],[84.8,54.1],[85.9,43.1],[87.0,22.4],[88.0,8.6],[89.1,9.9],[90.2,7.2],[91.3,8.6],[92.4,3.0],[94.6,1.7],[100,1.7]];
const allToOne6 = [[0,0.3],[1.3,3.0],[2.4,15.5],[3.5,56.9],[4.5,73.5],[5.4,56.9],[6.5,15.5],[7.1,8.6],[7.8,29.3],[8.6,61.0],[9.7,43.1],[10.8,3.0],[11.9,1.7],[13.0,4.4],[13.6,3.0],[14.7,43.1],[15.8,77.6],[16.8,88.7],[17.9,84.5],[19.0,43.1],[20.1,17.0],[21.2,63.8],[22.2,91.4],[22.9,99.7],[23.8,91.4],[25.1,81.8],[26.6,72.1],[27.6,79.0],[28.7,85.9],[29.8,80.4],[30.9,76.2],[32.0,74.9],[33.0,43.1],[34.1,8.6],[35.2,0.3],[36.3,3.0],[37.4,15.5],[38.9,22.4],[40.0,12.7],[41.0,1.7],[42.3,4.4],[43.8,14.1],[44.9,8.6],[46.0,1.7],[47.1,3.0],[48.8,12.7],[49.9,16.9],[51.0,8.6],[52.1,0.3],[53.1,4.4],[54.2,43.1],[55.1,59.0],[56.2,50.0],[57.0,41.7],[57.9,52.8],[58.7,58.3],[59.6,43.1],[60.7,3.0],[62.2,1.7],[64.4,2.3],[65.4,4.4],[66.5,15.5],[67.6,43.1],[68.7,58.3],[69.8,45.9],[70.8,40.3],[71.9,56.9],[73.0,77.6],[74.1,84.5],[75.2,85.9],[76.2,77.6],[77.3,70.7],[78.4,87.3],[79.5,95.6],[80.6,88.7],[81.6,90.0],[82.7,92.1],[83.8,87.3],[84.9,80.4],[86.0,83.1],[87.0,79.0],[88.1,74.9],[89.2,77.6],[90.3,90.0],[91.4,92.8],[92.5,87.3],[93.5,74.9],[94.6,63.8],[95.7,56.9],[96.8,65.2],[97.8,68.0],[98.9,36.2],[100,0.3]];

// ---------- All-to-All LSTM ----------
const allToAll1 = [[0,0.7],[1.1,1.1],[3.2,0.7],[4.3,2.8],[5.4,4.8],[6.5,6.9],[7.1,30.3],[8.0,71.7],[9.0,80.7],[9.7,77.2],[10.8,67.6],[11.4,66.2],[12.3,74.5],[13.3,85.5],[14.4,93.1],[15.5,93.8],[16.6,91.0],[17.6,85.5],[18.3,83.4],[19.4,90.3],[20.4,85.5],[21.5,69.0],[22.6,56.6],[23.7,63.4],[24.7,67.6],[25.8,60.7],[26.9,53.8],[28.0,51.0],[29.0,30.3],[30.1,9.7],[31.2,2.1],[32.3,1.1],[35.5,0.7],[38.7,1.1],[41.9,1.7],[45.2,2.1],[48.4,1.7],[51.6,1.1],[54.8,0.7],[63.4,1.1],[64.5,5.5],[65.6,30.3],[67.3,51.0],[68.8,71.7],[70.3,85.5],[71.6,95.2],[72.7,100],[73.8,93.8],[74.8,83.4],[75.9,82.1],[77.0,80.7],[78.1,83.4],[79.1,93.8],[80.2,99.3],[81.3,96.6],[82.4,95.2],[83.4,97.9],[84.5,96.6],[85.6,91.0],[86.7,78.6],[87.7,71.7],[88.8,67.6],[89.9,60.7],[91.0,53.8],[92.0,48.3],[93.1,40.0],[94.2,38.6],[95.3,44.1],[96.1,46.9],[97.2,35.9],[98.3,9.7],[99.4,1.4],[100,0.7]];
const allToAll2 = [[0,0.7],[2.6,1.1],[4.7,2.8],[5.8,4.8],[6.9,6.9],[7.5,30.3],[8.4,71.7],[9.4,80.7],[10.5,71.7],[11.6,66.2],[12.6,74.5],[13.7,85.5],[14.8,93.1],[15.8,93.1],[16.9,89.7],[18.0,84.1],[19.1,90.3],[20.1,84.1],[21.2,71.7],[22.3,57.9],[23.3,64.8],[24.4,66.2],[25.5,60.7],[26.6,55.2],[27.6,52.4],[28.7,51.0],[29.8,30.3],[30.8,5.5],[31.9,1.4],[33.0,0.7],[36.8,1.1],[41.1,1.7],[45.4,2.1],[49.7,1.7],[54.0,1.1],[63.6,1.1],[64.7,5.5],[65.7,30.3],[67.2,57.9],[68.5,78.6],[70.0,92.4],[71.1,99.3],[72.2,99.3],[73.2,88.3],[74.3,82.8],[75.4,81.4],[76.4,83.4],[77.5,88.3],[78.6,95.2],[79.7,99.3],[80.7,96.6],[81.8,95.2],[82.9,96.6],[84.0,97.9],[85.0,92.4],[86.1,78.6],[87.2,71.7],[88.2,67.6],[89.3,60.7],[90.4,55.2],[91.4,46.9],[92.5,40.0],[93.6,38.6],[94.6,45.5],[95.7,37.2],[96.8,9.7],[97.9,2.8],[98.9,1.1],[100,0.7]];
const allToAll3 = [[0,0.7],[8.1,0.7],[9.2,2.8],[10.3,30.3],[11.3,64.8],[12.4,78.6],[13.5,84.1],[14.5,78.6],[15.6,74.5],[16.7,85.5],[17.7,92.4],[18.8,97.9],[20.5,100],[21.6,96.6],[22.6,88.3],[23.5,82.8],[24.6,91.0],[25.9,96.6],[26.9,93.8],[28.0,85.5],[29.1,89.7],[30.1,93.8],[31.2,88.3],[32.3,77.2],[33.3,73.1],[34.2,70.3],[34.8,57.9],[35.9,30.3],[37.0,5.5],[38.0,1.1],[42.3,0.7],[50.9,1.1],[67.9,1.1],[69.0,2.8],[70.1,4.1],[70.7,5.5],[71.6,2.8],[72.2,5.5],[73.3,23.4],[74.4,51.0],[75.4,71.7],[76.5,85.5],[77.6,91.0],[78.6,92.4],[79.7,93.8],[80.8,96.6],[81.8,99.3],[82.9,98.6],[84.0,97.2],[85.0,97.9],[86.1,95.9],[87.2,96.6],[88.2,94.5],[89.3,95.2],[90.4,93.1],[91.5,85.5],[92.5,71.7],[93.6,62.1],[94.7,37.2],[95.7,9.7],[96.8,1.4],[97.9,0.7],[98.9,1.4],[100,1.1]];
const allToAll4 = [[0,0.7],[2.2,1.1],[4.3,0.7],[5.4,5.5],[6.5,44.1],[7.6,78.6],[8.7,83.4],[9.7,81.4],[10.8,77.2],[11.9,85.5],[13.0,89.7],[14.1,92.4],[15.2,88.3],[16.2,89.7],[17.3,91.0],[18.4,91.7],[19.5,93.8],[20.6,99.3],[21.6,100],[22.7,95.2],[23.8,86.9],[24.9,80.0],[26.0,81.4],[27.1,79.3],[28.1,80.0],[29.2,78.6],[30.3,74.5],[31.4,67.6],[32.5,63.4],[33.5,60.7],[34.6,44.1],[35.7,23.4],[36.8,9.7],[37.9,1.4],[40.0,0.7],[46.5,1.1],[53.0,1.7],[59.5,1.1],[67.1,0.7],[68.2,13.8],[69.3,44.1],[70.3,64.8],[71.4,69.0],[72.5,71.7],[73.6,73.1],[74.7,75.9],[75.8,81.4],[76.8,88.3],[77.9,89.7],[79.0,89.0],[80.1,91.0],[81.2,93.1],[82.3,92.4],[83.3,81.4],[84.4,71.7],[85.5,60.7],[86.6,69.0],[87.7,71.7],[88.7,59.3],[89.8,49.7],[90.9,35.9],[92.0,19.3],[93.1,23.4],[94.2,24.8],[95.2,16.6],[96.3,5.5],[97.4,2.1],[100,0.7]];
const allToAll5 = [[0,0],[0.2,38.6],[1.1,41.4],[2.2,44.1],[3.3,55.2],[4.3,64.8],[5.4,78.6],[6.5,80.0],[7.6,82.8],[8.7,84.1],[9.8,77.2],[10.9,70.3],[12.0,74.5],[13.0,85.5],[14.1,91.0],[15.2,88.3],[16.3,64.8],[17.4,37.2],[18.5,12.4],[19.6,12.4],[20.7,8.3],[21.7,2.8],[22.8,2.1],[23.9,2.8],[25.0,2.1],[27.2,2.1],[33.7,2.1],[55.4,2.1],[59.8,2.8],[60.9,3.4],[62.0,6.9],[63.0,16.6],[64.1,40.0],[65.2,41.4],[66.3,44.1],[67.4,51.0],[68.5,57.9],[69.6,60.7],[70.7,57.9],[71.7,64.8],[72.8,78.6],[73.9,85.5],[75.0,93.1],[76.1,91.0],[77.2,85.5],[78.3,80.0],[79.3,85.5],[80.4,95.2],[81.5,100],[82.6,95.2],[83.7,78.6],[84.8,60.7],[85.9,57.9],[87.0,51.0],[88.0,45.5],[89.1,44.1],[90.2,49.7],[91.3,48.3],[92.4,37.2],[93.5,23.4],[94.6,9.7],[95.7,2.8],[98.9,2.1],[100,1.4]];
const allToAll6 = [[0,0.7],[0.6,3.4],[1.7,2.8],[2.8,4.1],[3.9,16.6],[5.0,35.9],[6.0,23.4],[6.7,6.9],[7.6,30.3],[8.6,51.0],[9.7,30.3],[10.8,5.5],[11.9,4.1],[13.0,6.9],[14.0,30.3],[15.1,64.8],[16.2,82.8],[17.5,89.0],[18.6,77.2],[19.7,60.7],[20.7,74.5],[21.8,91.0],[22.9,97.9],[24.0,100],[25.1,88.3],[26.1,74.5],[27.2,69.0],[28.3,67.6],[29.4,70.3],[30.5,75.9],[31.5,82.8],[32.6,74.5],[33.7,44.1],[34.8,16.6],[35.9,2.8],[38.0,4.1],[39.1,4.8],[40.2,2.8],[44.5,3.4],[46.7,4.1],[47.7,5.5],[48.8,4.1],[51.0,1.4],[52.1,9.7],[53.1,30.3],[54.0,35.9],[55.1,16.6],[56.2,1.4],[57.2,5.5],[58.3,30.3],[59.0,45.5],[60.0,35.9],[61.1,9.7],[62.2,2.8],[65.4,3.4],[66.5,4.1],[67.6,5.5],[68.7,6.9],[69.8,5.5],[70.8,23.4],[71.9,57.9],[73.0,88.3],[74.1,95.2],[75.2,92.4],[76.2,78.6],[77.3,71.7],[78.4,85.5],[79.5,96.6],[80.6,99.3],[81.6,95.2],[82.7,89.7],[83.8,78.6],[84.9,77.2],[86.0,85.5],[87.0,89.7],[87.7,85.5],[88.6,77.2],[89.6,73.1],[90.7,82.8],[91.8,88.3],[92.9,78.6],[94.0,69.0],[95.0,66.2],[96.1,63.4],[96.8,69.0],[97.4,69.0],[98.5,44.1],[99.4,9.7],[100,0.7]];

// ---------- assemble ----------
const emgCores = [emgCore1,emgCore2,emgCore3,emgCore4,emgCore5,emgCore6];
const emgSpikes = [emgSpike1,emgSpike2,emgSpike3,emgSpike4,emgSpike5,emgSpike6];
const lineRows = [
  {data:[force1,force2,force3,force4,force5,force6], color:'#000000', width:3.4},
  {data:[mav1,mav2,mav3,mav4,mav5,mav6], color:'#e8161a', width:3.2},
  {data:[oneToOne1,oneToOne2,oneToOne3,oneToOne4,oneToOne5,oneToOne6], color:'#11661a', width:3.4},
  {data:[allToOne1,allToOne2,allToOne3,allToOne4,allToOne5,allToOne6], color:'#11661a', width:3.4},
  {data:[allToAll1,allToAll2,allToAll3,allToAll4,allToAll5,allToAll6], color:'#11661a', width:3.4}
];

const colLeft = [777,1167,1560,1955,2347,2740];
const rowTop = [208,483,758,1033,1308,1583];
const panelW = 380, panelH = 264, bw = 5;
const FONT = '"DejaVu Sans", "Liberation Sans", sans-serif';

const grids = [], xAxes = [], yAxes = [], series = [];
for (let r = 0; r < 6; r++) {
  for (let c = 0; c < 6; c++) {
    const idx = r*6 + c;
    grids.push({left: colLeft[c] + bw/2, top: rowTop[r] + bw/2, width: panelW - bw, height: panelH - bw,
      show: true, borderColor: '#000', borderWidth: bw, backgroundColor: '#fff', containLabel: false});
    xAxes.push({type: 'value', gridIndex: idx, min: -3, max: 103, show: false});
    if (r === 0) {
      yAxes.push({type: 'value', gridIndex: idx, min: -1.1, max: 1.1, show: false});
      const spikes = emgSpikes[c];
      const n = spikes.length;
      series.push({type: 'line', xAxisIndex: idx, yAxisIndex: idx, showSymbol: false, silent: true,
        data: spikes.map((v, i) => [i*100/(n-1), v]),
        lineStyle: {color: 'rgba(10,10,255,0.5)', width: 2.8, join: 'miter', cap: 'butt'}, z: 2});
      series.push({type: 'line', xAxisIndex: idx, yAxisIndex: idx, showSymbol: false, silent: true,
        data: emgCores[c].map(p => [p[0], p[1]]),
        lineStyle: {width: 0}, areaStyle: {color: '#0000ff', opacity: 1}, z: 3});
      series.push({type: 'line', xAxisIndex: idx, yAxisIndex: idx, showSymbol: false, silent: true,
        data: emgCores[c].map(p => [p[0], -p[1]]),
        lineStyle: {width: 0}, areaStyle: {color: '#0000ff', opacity: 1}, z: 3});
    } else {
      yAxes.push({type: 'value', gridIndex: idx, min: -3.5, max: 104, show: false});
      const row = lineRows[r-1];
      series.push({type: 'line', xAxisIndex: idx, yAxisIndex: idx, showSymbol: false, silent: true,
        data: row.data[c], lineStyle: {color: row.color, width: row.width}, z: 3});
    }
  }
}

const graphics = [];
for (let c = 0; c < 6; c++) {
  const cx = colLeft[c] + panelW/2;
  graphics.push({type: 'text', x: cx, y: 47, style: {text: channelNames[c], font: '82px ' + FONT, fill: '#000',
    align: 'center', verticalAlign: 'middle', textAlign: 'center', textVerticalAlign: 'middle'}});
  graphics.push({type: 'text', x: cx, y: 136, style: {text: muscleNames[c], font: '82px ' + FONT, fill: '#000',
    align: 'center', verticalAlign: 'middle', textAlign: 'center', textVerticalAlign: 'middle'}});
}
for (let r = 0; r < 6; r++) {
  graphics.push({type: 'text', x: 740, y: rowTop[r] + panelH/2 + 8, style: {text: rowLabels[r], font: '83px ' + FONT, fill: '#000',
    align: 'right', verticalAlign: 'middle', textAlign: 'right', textVerticalAlign: 'middle'}});
}

const chart = echarts.init(document.getElementById('chart'), null, {renderer: 'svg', width: 3150, height: 1868});
chart.setOption({
  animation: false,
  backgroundColor: '#ffffff',
  grid: grids,
  xAxis: xAxes,
  yAxis: yAxes,
  series: series,
  graphic: graphics
});
</script>
</body>
</html>
